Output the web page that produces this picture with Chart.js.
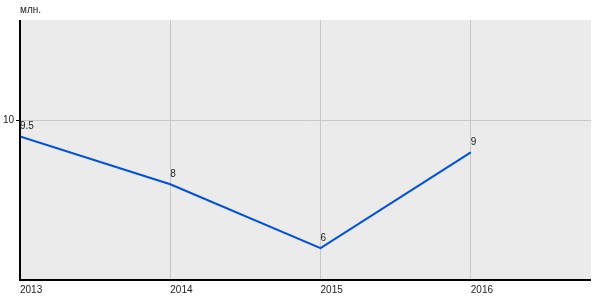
<!DOCTYPE html>
<html>
<head>
<meta charset="utf-8">
<script src="https://cdn.jsdelivr.net/npm/chart.js@4.4.0/dist/chart.umd.min.js"></script>
<style>
  html, body { margin: 0; padding: 0; background: #fff; }
  #wrap { width: 600px; height: 300px; }
</style>
</head>
<body>
<div id="wrap"><canvas id="chart"></canvas></div>
<script>
var years = [2013, 2014, 2015, 2016];
var values = [9.5, 8, 6, 9];
var valueLabels = ["9.5", "8", "6", "9"];
var yTicks = [10];
var unitLabel = "млн.";

var font = "Liberation Sans, Arial, sans-serif";

// gray plot area, axis lines, unit caption and point labels
var decor = {
  id: "decor",
  beforeDraw: function(chart) {
    var a = chart.chartArea, ctx = chart.ctx;
    ctx.save();
    ctx.fillStyle = "#ebebeb";
    ctx.fillRect(a.left, a.top, a.right - a.left, a.bottom - a.top);
    ctx.restore();
  },
  afterDatasetsDraw: function(chart) {
    var ctx = chart.ctx, a = chart.chartArea;
    ctx.save();
    ctx.strokeStyle = "#000";
    ctx.lineWidth = 2;
    ctx.beginPath();
    ctx.moveTo(a.left, a.top);
    ctx.lineTo(a.left, a.bottom);
    ctx.lineTo(a.right, a.bottom);
    ctx.stroke();

    ctx.font = "10px " + font;
    ctx.fillStyle = "#222";
    ctx.textAlign = "left";
    ctx.textBaseline = "middle";
    ctx.fillText(unitLabel, a.left, 10);
    var meta = chart.getDatasetMeta(0);
    meta.data.forEach(function(pt, i) {
      ctx.fillText(valueLabels[i], pt.x, pt.y - 10);
    });
    ctx.restore();
  }
};

new Chart(document.getElementById("chart"), {
  type: "line",
  data: {
    datasets: [{
      data: years.map(function(y, i) { return { x: y, y: values[i] }; }),
      borderColor: "#0050e0",
      borderWidth: 2,
      pointRadius: 0,
      tension: 0,
      fill: false
    }]
  },
  options: {
    responsive: true,
    maintainAspectRatio: false,
    animation: false,
    layout: { padding: { top: 20, right: 9, left: 0, bottom: 0 } },
    plugins: {
      legend: { display: false },
      tooltip: { enabled: false }
    },
    scales: {
      x: {
        type: "linear",
        min: 2013,
        max: 2016.8,
        afterBuildTicks: function(axis) {
          axis.ticks = years.map(function(v) { return { value: v }; });
        },
        afterFit: function(axis) { axis.height = 20; },
        grid: { color: "#c8c8c8", lineWidth: 1, drawTicks: false },
        border: { display: false },
        ticks: {
          align: "start",
          padding: 4,
          color: "#222",
          font: { family: font, size: 10 },
          callback: function(v) { return String(v); }
        }
      },
      y: {
        min: 5,
        max: 13.15,
        afterBuildTicks: function(axis) {
          axis.ticks = yTicks.map(function(v) { return { value: v }; });
        },
        afterFit: function(axis) { axis.width = 20; },
        grid: { color: "#c8c8c8", lineWidth: 1, tickLength: 4, tickColor: "#000" },
        border: { display: false },
        ticks: {
          padding: 2,
          color: "#222",
          font: { family: font, size: 10 }
        }
      }
    }
  },
  plugins: [decor]
});
</script>
</body>
</html>
